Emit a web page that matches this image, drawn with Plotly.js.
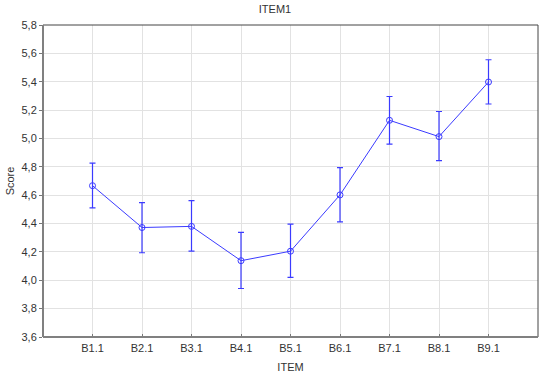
<!DOCTYPE html>
<html><head><meta charset="utf-8">
<script src="https://cdn.plot.ly/plotly-3.0.1.min.js"></script>
<style>html,body{margin:0;padding:0;background:#fff}#chart{width:550px;height:378px}</style>
</head><body><div id="chart"></div>
<script>
const categories = ["B1.1","B2.1","B3.1","B4.1","B5.1","B6.1","B7.1","B8.1","B9.1"];
const means = [4.667, 4.372, 4.380, 4.138, 4.205, 4.602, 5.128, 5.013, 5.398];
const upper = [4.826, 4.547, 4.562, 4.338, 4.396, 4.795, 5.296, 5.190, 5.555];
const lower = [4.510, 4.194, 4.205, 3.942, 4.021, 4.412, 4.960, 4.843, 5.243];
const yTicks = [3.6,3.8,4.0,4.2,4.4,4.6,4.8,5.0,5.2,5.4,5.6,5.8];

const idx = categories.map((c,i)=>i);
const blue = '#3b3bff';
const trace = {
  x: idx, y: means, type: 'scatter', mode: 'lines+markers',
  line: {color: blue, width: 1},
  marker: {symbol: 'circle-open', size: 6, color: blue, line: {width: 1, color: blue}},
  error_y: {type: 'data', symmetric: false,
    array: upper.map((u,i)=>u-means[i]),
    arrayminus: means.map((m,i)=>m-lower[i]),
    color: blue, thickness: 1.2, width: 3},
  hoverinfo: 'skip'
};
const font = {family: 'Liberation Sans, Arial, sans-serif', size: 11, color: '#333'};
const layout = {
  width: 550, height: 378,
  margin: {l: 43, r: 12, t: 25, b: 41},
  paper_bgcolor: '#fff', plot_bgcolor: '#fff',
  separators: ',.',
  font: font,
  showlegend: false,
  title: {text: 'ITEM1', x: 0.5, xanchor: 'center', y: 0.975, yanchor: 'middle', font: {family: font.family, size: 11, color: '#333'}},
  xaxis: {
    range: [-1, 9], tickmode: 'array', tickvals: idx, ticktext: categories,
    showgrid: true, gridcolor: '#e2e2e2', gridwidth: 1, zeroline: false,
    showline: false, ticks: 'inside', ticklen: 3, tickcolor: '#777',
    ticklabelstandoff: 3,
    title: {text: 'ITEM', standoff: 10, font: {family: font.family, size: 11, color: '#333'}},
    tickfont: {family: font.family, size: 11, color: '#333'}
  },
  yaxis: {
    range: [3.6, 5.8], tickmode: 'array', tickvals: yTicks, tickformat: '.1f',
    showgrid: true, gridcolor: '#e2e2e2', gridwidth: 1, zeroline: false,
    showline: false, ticks: 'outside', ticklen: 3, tickcolor: '#777',
    title: {text: 'Score', standoff: 4, font: {family: font.family, size: 11, color: '#333'}},
    tickfont: {family: font.family, size: 11, color: '#333'}
  },
  shapes: [
    {type:'line', xref:'paper', yref:'paper', x0:0, x1:1, y0:1, y1:1, line:{color:'#444', width:1}},
    {type:'line', xref:'paper', yref:'paper', x0:1, x1:1, y0:0, y1:1, line:{color:'#444', width:1}},
    {type:'line', xref:'paper', yref:'paper', x0:0, x1:0, y0:0, y1:1, line:{color:'#808080', width:2}},
    {type:'line', xref:'paper', yref:'paper', x0:0, x1:1, y0:0, y1:0, line:{color:'#808080', width:2}}
  ]
};
Plotly.newPlot('chart', [trace], layout, {staticPlot: true, displayModeBar: false});
</script>
</body></html>
